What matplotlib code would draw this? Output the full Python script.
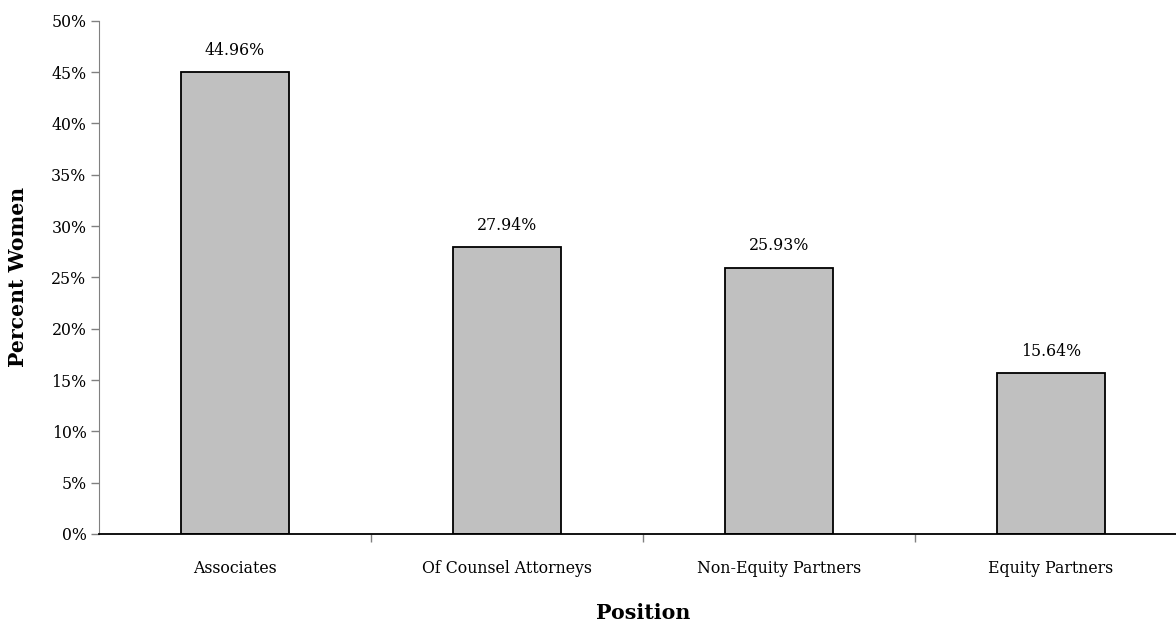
import matplotlib
matplotlib.use("Agg")
import matplotlib.pyplot as plt
from matplotlib.ticker import FixedLocator

categories = ["Associates", "Of Counsel Attorneys", "Non-Equity Partners", "Equity Partners"]
values = [44.96, 27.94, 25.93, 15.64]
yticks = [0, 5, 10, 15, 20, 25, 30, 35, 40, 45, 50]

plt.rcParams['font.family'] = ['DejaVu Serif', 'Liberation Serif']

W, H = 1176, 624
fig = plt.figure(figsize=(W/100, H/100), dpi=100)
left, right, bottom, top = 99, 99 + 4*272, 534, 20.7
ax = fig.add_axes([left/W, (H-bottom)/H, (right-left)/W, (bottom-top)/H])

x = list(range(len(categories)))
ax.bar(x, values, width=0.4, color="#c0c0c0", edgecolor="black", linewidth=1.3, zorder=3)
for xi, v in zip(x, values):
    ax.text(xi, v + 1.3, f"{v:.2f}%", ha="center", va="bottom", fontsize=11.3)

ax.set_xlim(-0.5, 3.5)
ax.set_ylim(0, 50)
ax.set_yticks(yticks)
ax.set_yticklabels([f"{t}%" for t in yticks], fontsize=11.3)
ax.set_xticks(x)
ax.set_xticklabels(categories, fontsize=11.3)
ax.tick_params(axis="x", length=0, pad=19)
ax.xaxis.set_minor_locator(FixedLocator([0.5, 1.5, 2.5]))
ax.tick_params(axis="x", which="minor", length=6, color="#808080", width=1)
ax.tick_params(axis="y", length=6, color="#808080", width=1, pad=3)

for s in ["top", "right"]:
    ax.spines[s].set_visible(False)
ax.spines["left"].set_color("#808080")
ax.spines["bottom"].set_color("black")
ax.spines["bottom"].set_linewidth(1.3)
ax.spines["bottom"].set_zorder(4)

fig.text(18/W, 1 - 277/H, "Percent Women", rotation=90, ha="center", va="center",
         fontsize=14.7, fontweight="bold")
fig.text(643/W, 1 - 613/H, "Position", ha="center", va="center",
         fontsize=14.8, fontweight="bold")

fig.savefig("out.png", dpi=100)
